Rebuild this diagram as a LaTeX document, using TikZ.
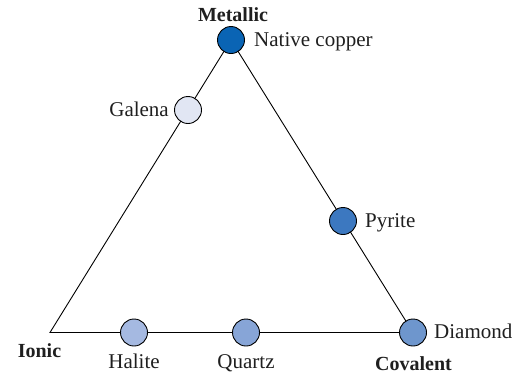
\documentclass[tikz,border=0pt]{standalone}
\usepackage{fontspec}
\setmainfont{Liberation Serif}
\begin{document}
\begin{tikzpicture}[x=1pt,y=-1pt,
  mineral/.style={circle,draw=black,line width=0.9pt,minimum size=27pt,inner sep=0pt},
  lbl/.style={inner sep=0pt,font=\fontsize{21}{24}\selectfont,text=black!88},
  corner/.style={inner sep=0pt,font=\fontsize{20}{23}\selectfont\bfseries,text=black!88},
  edge/.style={line width=0.9pt}]
\definecolor{cCopper}{RGB}{10,100,180}
\definecolor{cGalena}{RGB}{225,230,243}
\definecolor{cPyrite}{RGB}{60,120,192}
\definecolor{cHalite}{RGB}{165,185,225}
\definecolor{cQuartz}{RGB}{135,165,215}
\definecolor{cDiamond}{RGB}{110,150,205}
\useasboundingbox (0,0) rectangle (524,376);
% triangle corners
\coordinate (M) at (231,40);
\coordinate (I) at (50,332.5);
\coordinate (C) at (413,332.5);
\draw[edge] (I) -- (M) -- (C) -- cycle;
% minerals on the triangle
\node[mineral,fill=cCopper]  (copper)  at (M) {};
\node[mineral,fill=cGalena]  (galena)  at (188,110) {};
\node[mineral,fill=cPyrite]  (pyrite)  at (343,221) {};
\node[mineral,fill=cHalite]  (halite)  at (134,332.5) {};
\node[mineral,fill=cQuartz]  (quartz)  at (246,332.5) {};
\node[mineral,fill=cDiamond] (diamond) at (C) {};
% mineral names
\node[lbl,anchor=base west] (tcopper) at (254,46) {Native copper};
\node[lbl,anchor=base east] (tgalena) at (169,116) {Galena};
\node[lbl,anchor=base west] (tpyrite) at (365,227) {Pyrite};
\node[lbl,anchor=base west] (tdiamond) at (434,338) {Diamond};
\node[lbl,anchor=base] (thalite) at (134,368) {Halite};
\node[lbl,anchor=base] (tquartz) at (246,368) {Quartz};
% bond types at the corners
\node[corner,anchor=base] (tmetal) at (233,21) {Metallic};
\node[corner,anchor=base] (tionic) at (39.5,357) {Ionic};
\node[corner,anchor=base] (tcoval) at (413.5,370) {Covalent};
\end{tikzpicture}
\end{document}
